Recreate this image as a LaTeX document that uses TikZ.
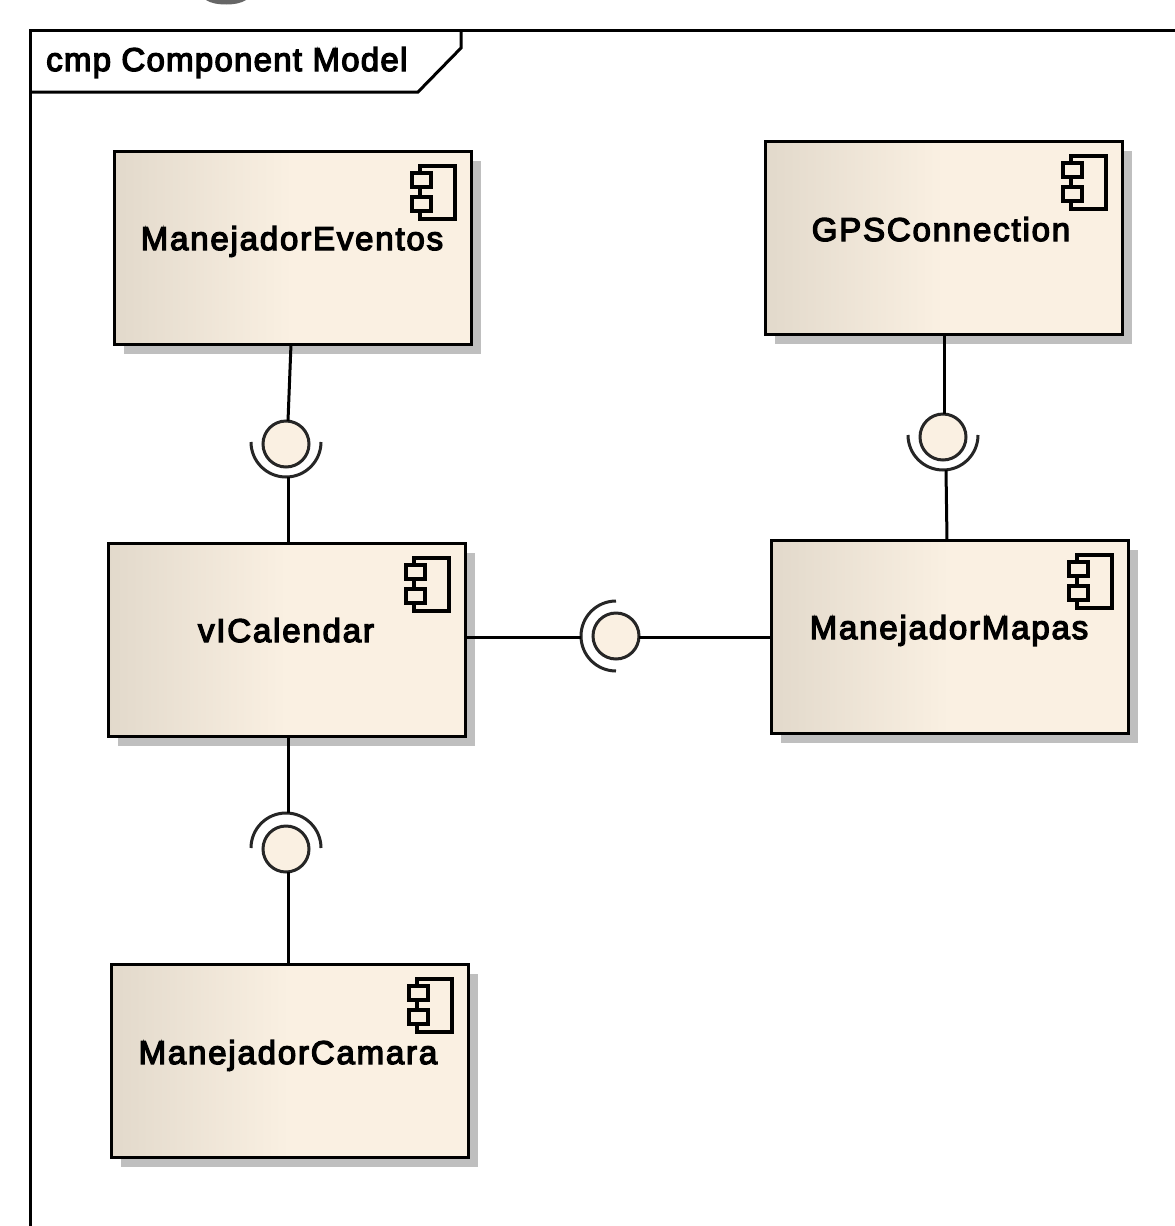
\documentclass[tikz,border=0pt]{standalone}
\usepackage{fontspec}
\setmainfont{Liberation Sans}
\newfontfamily\difont[LetterSpace=5.5,FakeBold=4]{Liberation Sans}
\newfontfamily\titlefont[LetterSpace=3.8,FakeBold=4]{Liberation Sans}
\definecolor{compdark}{HTML}{E2D9CB}
\definecolor{compcream}{HTML}{FAF0E2}
\definecolor{shadowgrey}{HTML}{BFBFBF}
\pgfdeclarehorizontalshading{compfill}{100bp}{color(0bp)=(compdark); color(25bp)=(compdark); color(50bp)=(compcream); color(100bp)=(compcream)}
\tikzset{
  x=1pt,y=-1pt,
  inkline/.style={draw=black,line width=3pt},
  compbox/.style={inkline,shading=compfill,rectangle,minimum width=357pt,minimum height=193pt,inner sep=0pt,outer sep=0pt,anchor=north west},
  compshadow/.style={fill=shadowgrey,draw=none,rectangle,minimum width=357pt,minimum height=193pt,inner sep=0pt,outer sep=0pt,anchor=north west},
  difftext/.style={font=\difont\fontsize{33}{36}\selectfont,text=black,anchor=base,inner sep=0pt},
  titletext/.style={font=\titlefont\fontsize{33}{36}\selectfont,text=black,anchor=base west,inner sep=0pt},
  ball/.style={circle,draw=black!85,line width=3pt,fill=compcream,minimum size=46pt,inner sep=0pt,outer sep=0pt},
  socket/.style={circle,draw=none,minimum size=70pt,inner sep=0pt,outer sep=0pt},
  sockarc/.style={draw=black!85,line width=3pt},
  conn/.style={draw=black,line width=3pt},
  iconline/.style={draw=black,line width=3.2pt}
}
\newcommand{\compicon}[2]{%
  \draw[iconline] (#1-51,#2+15) rectangle (#1-16,#2+68);
  \draw[iconline,fill=compcream] (#1-59,#2+22) rectangle (#1-40,#2+36);
  \draw[iconline,fill=compcream] (#1-59,#2+46) rectangle (#1-40,#2+60);
}
\begin{document}
\begin{tikzpicture}
\useasboundingbox (0,0) rectangle (1175,1226);
\fill[white] (0,0) rectangle (1175,1226);
% partial gray shape at the top edge
\fill[black!60] (206,0) .. controls (214,6) and (238,6) .. (246,0) -- cycle;
% frame
\draw[inkline] (30,1230) -- (30,30) -- (1180,30);
\draw[inkline] (30,92) -- (418,92) -- (461,48) -- (461,30);
\node[titletext] (frametitle) at (46,71) {cmp Component Model};
% shadows
\node[compshadow] (shA) at (124,161) {};
\node[compshadow] (shB) at (775,151) {};
\node[compshadow] (shC) at (118,553) {};
\node[compshadow] (shD) at (781,550) {};
\node[compshadow] (shE) at (121,974) {};
% boxes
\node[compbox] (eventos) at (114,151) {};
\node[compbox] (gps) at (765,141) {};
\node[compbox] (vical) at (108,543) {};
\node[compbox] (mapas) at (771,540) {};
\node[compbox] (camara) at (111,964) {};
% component icons
\compicon{471}{151}
\compicon{1122}{141}
\compicon{465}{543}
\compicon{1128}{540}
\compicon{468}{964}
% labels
\node[difftext] (lblA) at (292,250) {ManejadorEventos};
\node[difftext] (lblB) at (941,241) {GPSConnection};
\node[difftext] (lblC) at (286,642) {vICalendar};
\node[difftext] (lblD) at (949,639) {ManejadorMapas};
\node[difftext] (lblE) at (288,1064) {ManejadorCamara};
% interfaces
\node[socket] (sockA) at (286,442) {};
\node[socket] (sockB) at (943,435) {};
\node[socket] (sockC) at (616,636) {};
\node[socket] (sockD) at (286,848) {};
\node[ball] (ballA) at (286,444) {};
\node[ball] (ballB) at (943,437) {};
\node[ball] (ballC) at (616,636) {};
\node[ball] (ballD) at (286,849) {};
\draw[sockarc] (sockA.east) arc[start angle=0,end angle=-180,radius=35pt];
\draw[sockarc] (sockB.east) arc[start angle=0,end angle=-180,radius=35pt];
\draw[sockarc] (sockC.north) arc[start angle=90,end angle=270,radius=35pt];
\draw[sockarc] (sockD.west) arc[start angle=180,end angle=0,radius=35pt];
% connectors
\coordinate (eventosOut) at (291,344);
\coordinate (ballAtop) at (288,421);
\coordinate (gpsOut) at (944,334);
\coordinate (mapasIn) at (947,540);
\coordinate (sockBbot) at (946,470);
\draw[conn] (eventosOut) -- (ballAtop);
\draw[conn] (sockA.south -| vical.north) ++(2,0) coordinate (sa) -- (sa |- vical.north);
\draw[conn] (gpsOut) -- (gpsOut |- ballB.north);
\draw[conn] (sockBbot) -- (mapasIn);
\draw[conn] (vical.east |- 0,637) coordinate (vr) -- (vr -| sockC.west);
\draw[conn] (ballC.east |- vr) -- (mapas.west |- vr);
\draw[conn] (288,736) coordinate (vo) -- (vo |- sockD.north);
\draw[conn] (vo |- ballD.south) -- (vo |- camara.north);
\end{tikzpicture}
\end{document}
